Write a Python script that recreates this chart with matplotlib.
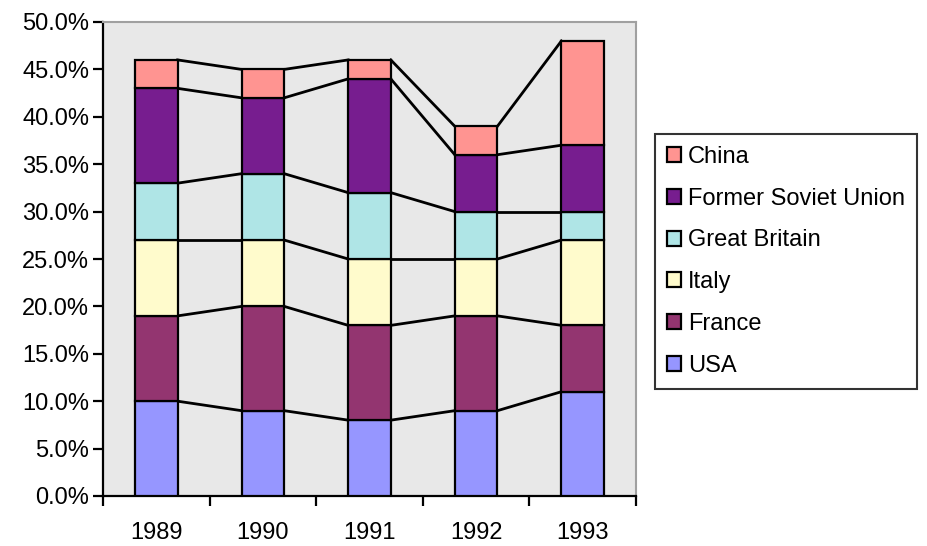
import matplotlib.pyplot as plt
import numpy as np
from matplotlib.ticker import FuncFormatter, FixedLocator

plt.rcParams['font.family'] = ['Liberation Sans', 'DejaVu Sans']

years = ['1989', '1990', '1991', '1992', '1993']
usa = [10, 9, 8, 9, 11]
france = [9, 11, 10, 10, 7]
italy = [8, 7, 7, 6, 9]
great_britain = [6, 7, 7, 5, 3]
soviet = [10, 8, 12, 6, 7]
china = [3, 3, 2, 3, 11]

series = [
    ('USA', usa, '#9696ff'),
    ('France', france, '#933570'),
    ('Italy', italy, '#fffbcc'),
    ('Great Britain', great_britain, '#afe5e6'),
    ('Former Soviet Union', soviet, '#771d8f'),
    ('China', china, '#ff9491'),
]

fig = plt.figure(figsize=(9.28, 5.46), dpi=100)
ax = fig.add_axes([103/928, 1-496/546, (636-103)/928, (496-22)/546])
ax.set_facecolor('#e8e8e8')

x = np.arange(len(years))
w = 0.40
bottom = np.zeros(len(years))
handles = []
for name, vals, col in series:
    vals = np.array(vals, dtype=float)
    b = ax.bar(x, vals, w, bottom=bottom, color=col, edgecolor='black',
               linewidth=1.6, label=name, zorder=3)
    handles.append(b)
    bottom = bottom + vals
    # series lines joining the bar tops
    for i in range(len(years) - 1):
        ax.plot([x[i] + w/2, x[i+1] - w/2], [bottom[i], bottom[i+1]],
                color='black', linewidth=2, zorder=2)

ax.set_xlim(-0.5, 4.5)
ax.set_ylim(0, 50)
ax.set_yticks(np.arange(0, 51, 5))
ax.yaxis.set_major_formatter(FuncFormatter(lambda v, p: f'{v:.1f}%'))
ax.set_xticks(x)
ax.set_xticklabels(years)
ax.xaxis.set_minor_locator(FixedLocator(np.arange(-0.5, 5, 1)))
ax.tick_params(axis='x', which='major', length=0, pad=19, labelsize=17)
ax.tick_params(axis='x', which='minor', length=7, width=1.6, direction='out')
ax.tick_params(axis='y', length=7, width=1.6, direction='out', labelsize=17, pad=3)

for s in ['top', 'right']:
    ax.spines[s].set_color('#a0a0a0')
    ax.spines[s].set_linewidth(1.5)
for s in ['left', 'bottom']:
    ax.spines[s].set_color('black')
    ax.spines[s].set_linewidth(1.6)

leg = fig.legend(handles[::-1], [s[0] for s in series[::-1]],
                 loc='upper left', bbox_to_anchor=(655/928, 1-134/546),
                 frameon=True, fancybox=False, edgecolor='black',
                 fontsize=17, handlelength=0.6, handleheight=0.6,
                 handletextpad=0.3, labelspacing=0.84, borderpad=0.5,
                 borderaxespad=0)
leg.get_frame().set_linewidth(1.5)

fig.savefig('out.png', dpi=100)
